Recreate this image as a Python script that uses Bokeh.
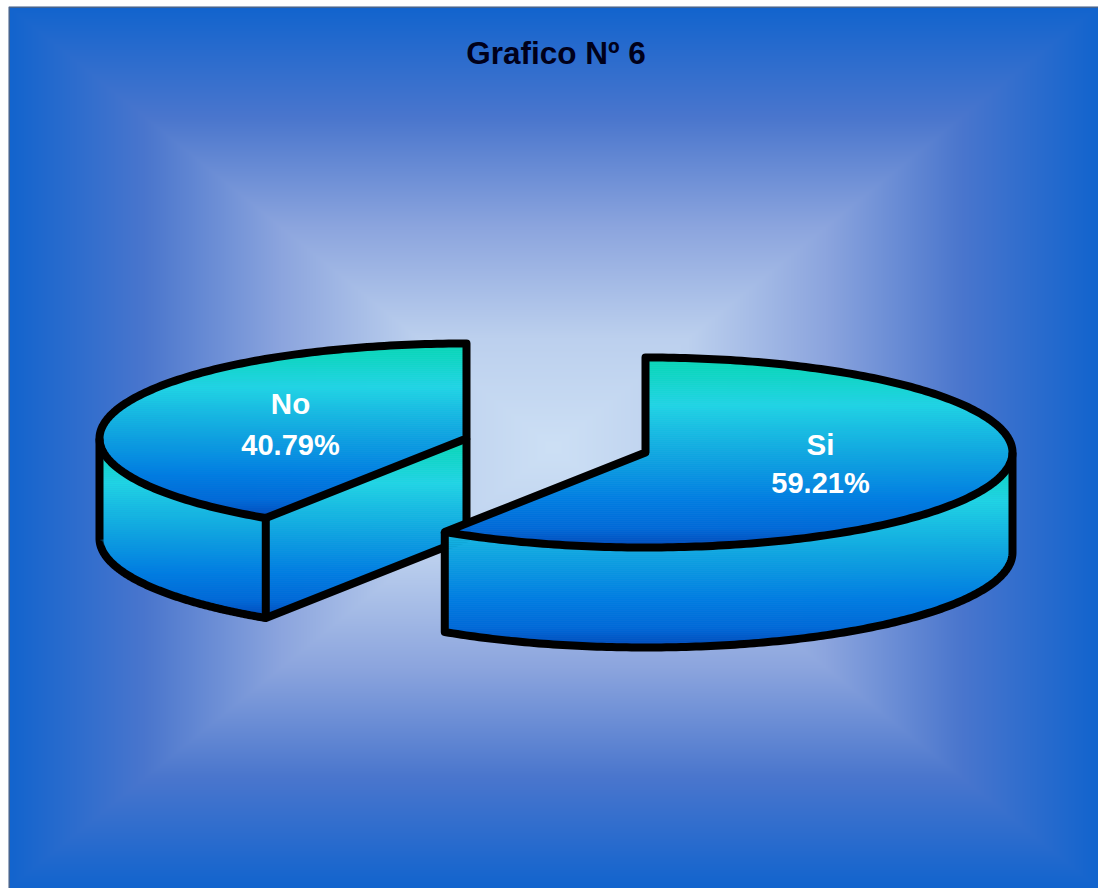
import numpy as np
from bokeh.plotting import figure
from bokeh.models import Range1d
from bokeh.core.properties import value
from bokeh.embed import file_html
from bokeh.resources import INLINE

# --- data
categories = ["No", "Si"]
percents = [40.79, 59.21]
title_text = "Grafico Nº 6"

# --- layout (page pixels, y measured from the top of the window)
LEFT, TOP, RIGHT, BOTTOM = 8, 6, 1098, 888
W, H = RIGHT - LEFT, BOTTOM - TOP
RX, RY, DEPTH = 367, 95, 100
CENTER_NO = (466, 438)
CENTER_SI = (645, 452)
OUT = 8

FACE_STOPS = [0.0, 0.06, 0.25, 0.5, 0.75, 0.9, 1.0]
FACE_RGB = np.array([(10, 212, 180), (12, 214, 190), (32, 212, 228), (16, 168, 224),
                     (0, 125, 225), (0, 105, 215), (0, 72, 185)], float)
BG_STOPS = [0.0, 0.25, 0.5, 0.75, 1.0]
BG_RGB = np.array([(205, 224, 245), (188, 208, 238), (140, 165, 222),
                   (74, 118, 205), (18, 100, 205)], float)


def yy(py):
    return BOTTOM - np.asarray(py, float)


def ramp(t, stops, rgb):
    return np.stack([np.interp(t, stops, rgb[:, i]) for i in range(3)], axis=-1)


def hexcol(c):
    return "#%02x%02x%02x" % tuple(int(round(v)) for v in c)


def clip_half(pts, limit, keep_below):
    """Sutherland-Hodgman clip against one horizontal line."""
    out = []
    n = len(pts)
    for i in range(n):
        a, b = pts[i], pts[(i + 1) % n]
        ina = a[1] >= limit if keep_below else a[1] <= limit
        inb = b[1] >= limit if keep_below else b[1] <= limit
        if ina:
            out.append(a)
        if ina != inb:
            f = (limit - a[1]) / (b[1] - a[1])
            out.append((a[0] + f * (b[0] - a[0]), limit))
    return out


def gradient_face(p, px, py, y0=None, y1=None, step=2):
    """Fill a polygon with the vertical face gradient as thin clipped bands."""
    pts = list(zip(px, py))
    y0 = min(py) if y0 is None else y0
    y1 = max(py) if y1 is None else y1
    xs, ys, cols = [], [], []
    for top in np.arange(y0, y1, step):
        band = clip_half(clip_half(pts, top, True), top + step, False) if pts else []
        if len(band) < 3:
            continue
        col = hexcol(ramp((top + step / 2 - y0) / (y1 - y0), FACE_STOPS, FACE_RGB))
        xs.append([q[0] for q in band])
        ys.append(list(yy([q[1] for q in band])))
        cols.append(col)
    p.patches(xs, ys, fill_color=cols, line_color=cols, line_width=0.6)


def arc(center, a0, a1, drop=0, n=160):
    """Angles in degrees clockwise from 12 o'clock."""
    t = np.radians(np.linspace(a0, a1, n))
    return center[0] + RX * np.sin(t), center[1] - RY * np.cos(t) + drop


def outline(p, px, py, closed=False):
    px, py = list(px), list(py)
    if closed:
        p.patch(px, list(yy(py)), fill_alpha=0, line_color="black",
                line_width=OUT, line_join="round")
    else:
        p.line(px, list(yy(py)), line_color="black", line_width=OUT, line_join="round")


p = figure(width=W, height=H, x_range=Range1d(LEFT, RIGHT), y_range=Range1d(0, H),
           output_backend="svg", toolbar_location=None, min_border=0,
           x_axis_location=None, y_axis_location=None, margin=(TOP, 0, 0, LEFT))
p.grid.visible = False
p.outline_line_color = None

# --- background: rectangular gradient from the centre outwards
gx = (np.arange(W) + 0.5 - W / 2) / (W / 2)
gy = (np.arange(H) + 0.5 - H / 2) / (H / 2)
tt = np.maximum(np.abs(gx)[None, :], np.abs(gy)[:, None])
rgb = ramp(tt, BG_STOPS, BG_RGB).astype(np.uint8)
img = np.zeros((H, W), dtype=np.uint32)
view = img.view(np.uint8).reshape((H, W, 4))
view[..., :3] = rgb
view[..., 3] = 255
p.image_rgba(image=[img], x=LEFT, y=0, dw=W, dh=H)

# frame on the left and top edges
p.line([LEFT + .5, LEFT + .5, RIGHT], [0, H - .5, H - .5], line_color="#5a6478", line_width=1.5)

# --- slice angles from the values
sweep_no = 360 * percents[0] / sum(percents)
sweep_si = 360 * percents[1] / sum(percents)

# --- "No" slice: runs counter-clockwise from 12 o'clock
cx, cy = CENTER_NO
ax, ay = arc(CENTER_NO, -sweep_no, 0)          # from front vertex round the left to the top
wall_x, wall_y = arc(CENTER_NO, -sweep_no, -90)
bx, by = arc(CENTER_NO, -90, -sweep_no, DEPTH)
vx, vy = ax[0], ay[0]
wall_top = cy
wall_bot = vy + DEPTH
gradient_face(p, list(wall_x) + list(bx), list(wall_y) + list(by), wall_top, wall_bot)
cut_x = [vx, cx, cx, vx]
cut_y = [vy, cy, cy + DEPTH, vy + DEPTH]
gradient_face(p, cut_x, cut_y, wall_top, wall_bot)
gradient_face(p, list(ax) + [cx], list(ay) + [cy])
outline(p, list(ax) + [cx], list(ay) + [cy], closed=True)
outline(p, [wall_x[-1]] + list(bx) + [cx, cx], [wall_y[-1]] + list(by) + [cy + DEPTH, cy])
outline(p, [vx, vx], [vy, vy + DEPTH])

# --- "Si" slice: runs clockwise from 12 o'clock
cx, cy = CENTER_SI
ax, ay = arc(CENTER_SI, 0, sweep_si, n=240)
wall_x, wall_y = arc(CENTER_SI, 90, sweep_si)
bx, by = arc(CENTER_SI, sweep_si, 90, DEPTH)
vx, vy = ax[-1], ay[-1]
wall_bot = cy + RY + DEPTH
gradient_face(p, list(wall_x) + list(bx), list(wall_y) + list(by), cy, wall_bot)
gradient_face(p, list(ax) + [cx], list(ay) + [cy])
outline(p, list(ax) + [cx], list(ay) + [cy], closed=True)
bx2, by2 = arc(CENTER_SI, 90, sweep_si, DEPTH)
outline(p, [wall_x[0]] + list(bx2) + [vx], [wall_y[0]] + list(by2) + [vy])

# --- texts (the anchor sits about 11px above the drawn baseline in this page)
SANS = value("Liberation Sans")
p.text([555.5], yy([52]), text=[title_text], text_font=SANS, text_font_style="bold",
       text_font_size="31.5px", text_color="#00001a", text_align="center",
       text_baseline="alphabetic")
lab_x = [290, 820]
name_y = [403, 444]
pct_y = [444, 482]
p.text(lab_x, yy(name_y), text=categories, text_font=SANS, text_font_style="bold",
       text_font_size="29.5px", text_color="white", text_align="center",
       text_baseline="alphabetic")
p.text(lab_x, yy(pct_y), text=["%.2f%%" % v for v in percents], text_font=SANS,
       text_font_style="bold", text_font_size="29px", text_color="white",
       text_align="center", text_baseline="alphabetic")

open("out.html", "w").write(file_html(p, INLINE))
